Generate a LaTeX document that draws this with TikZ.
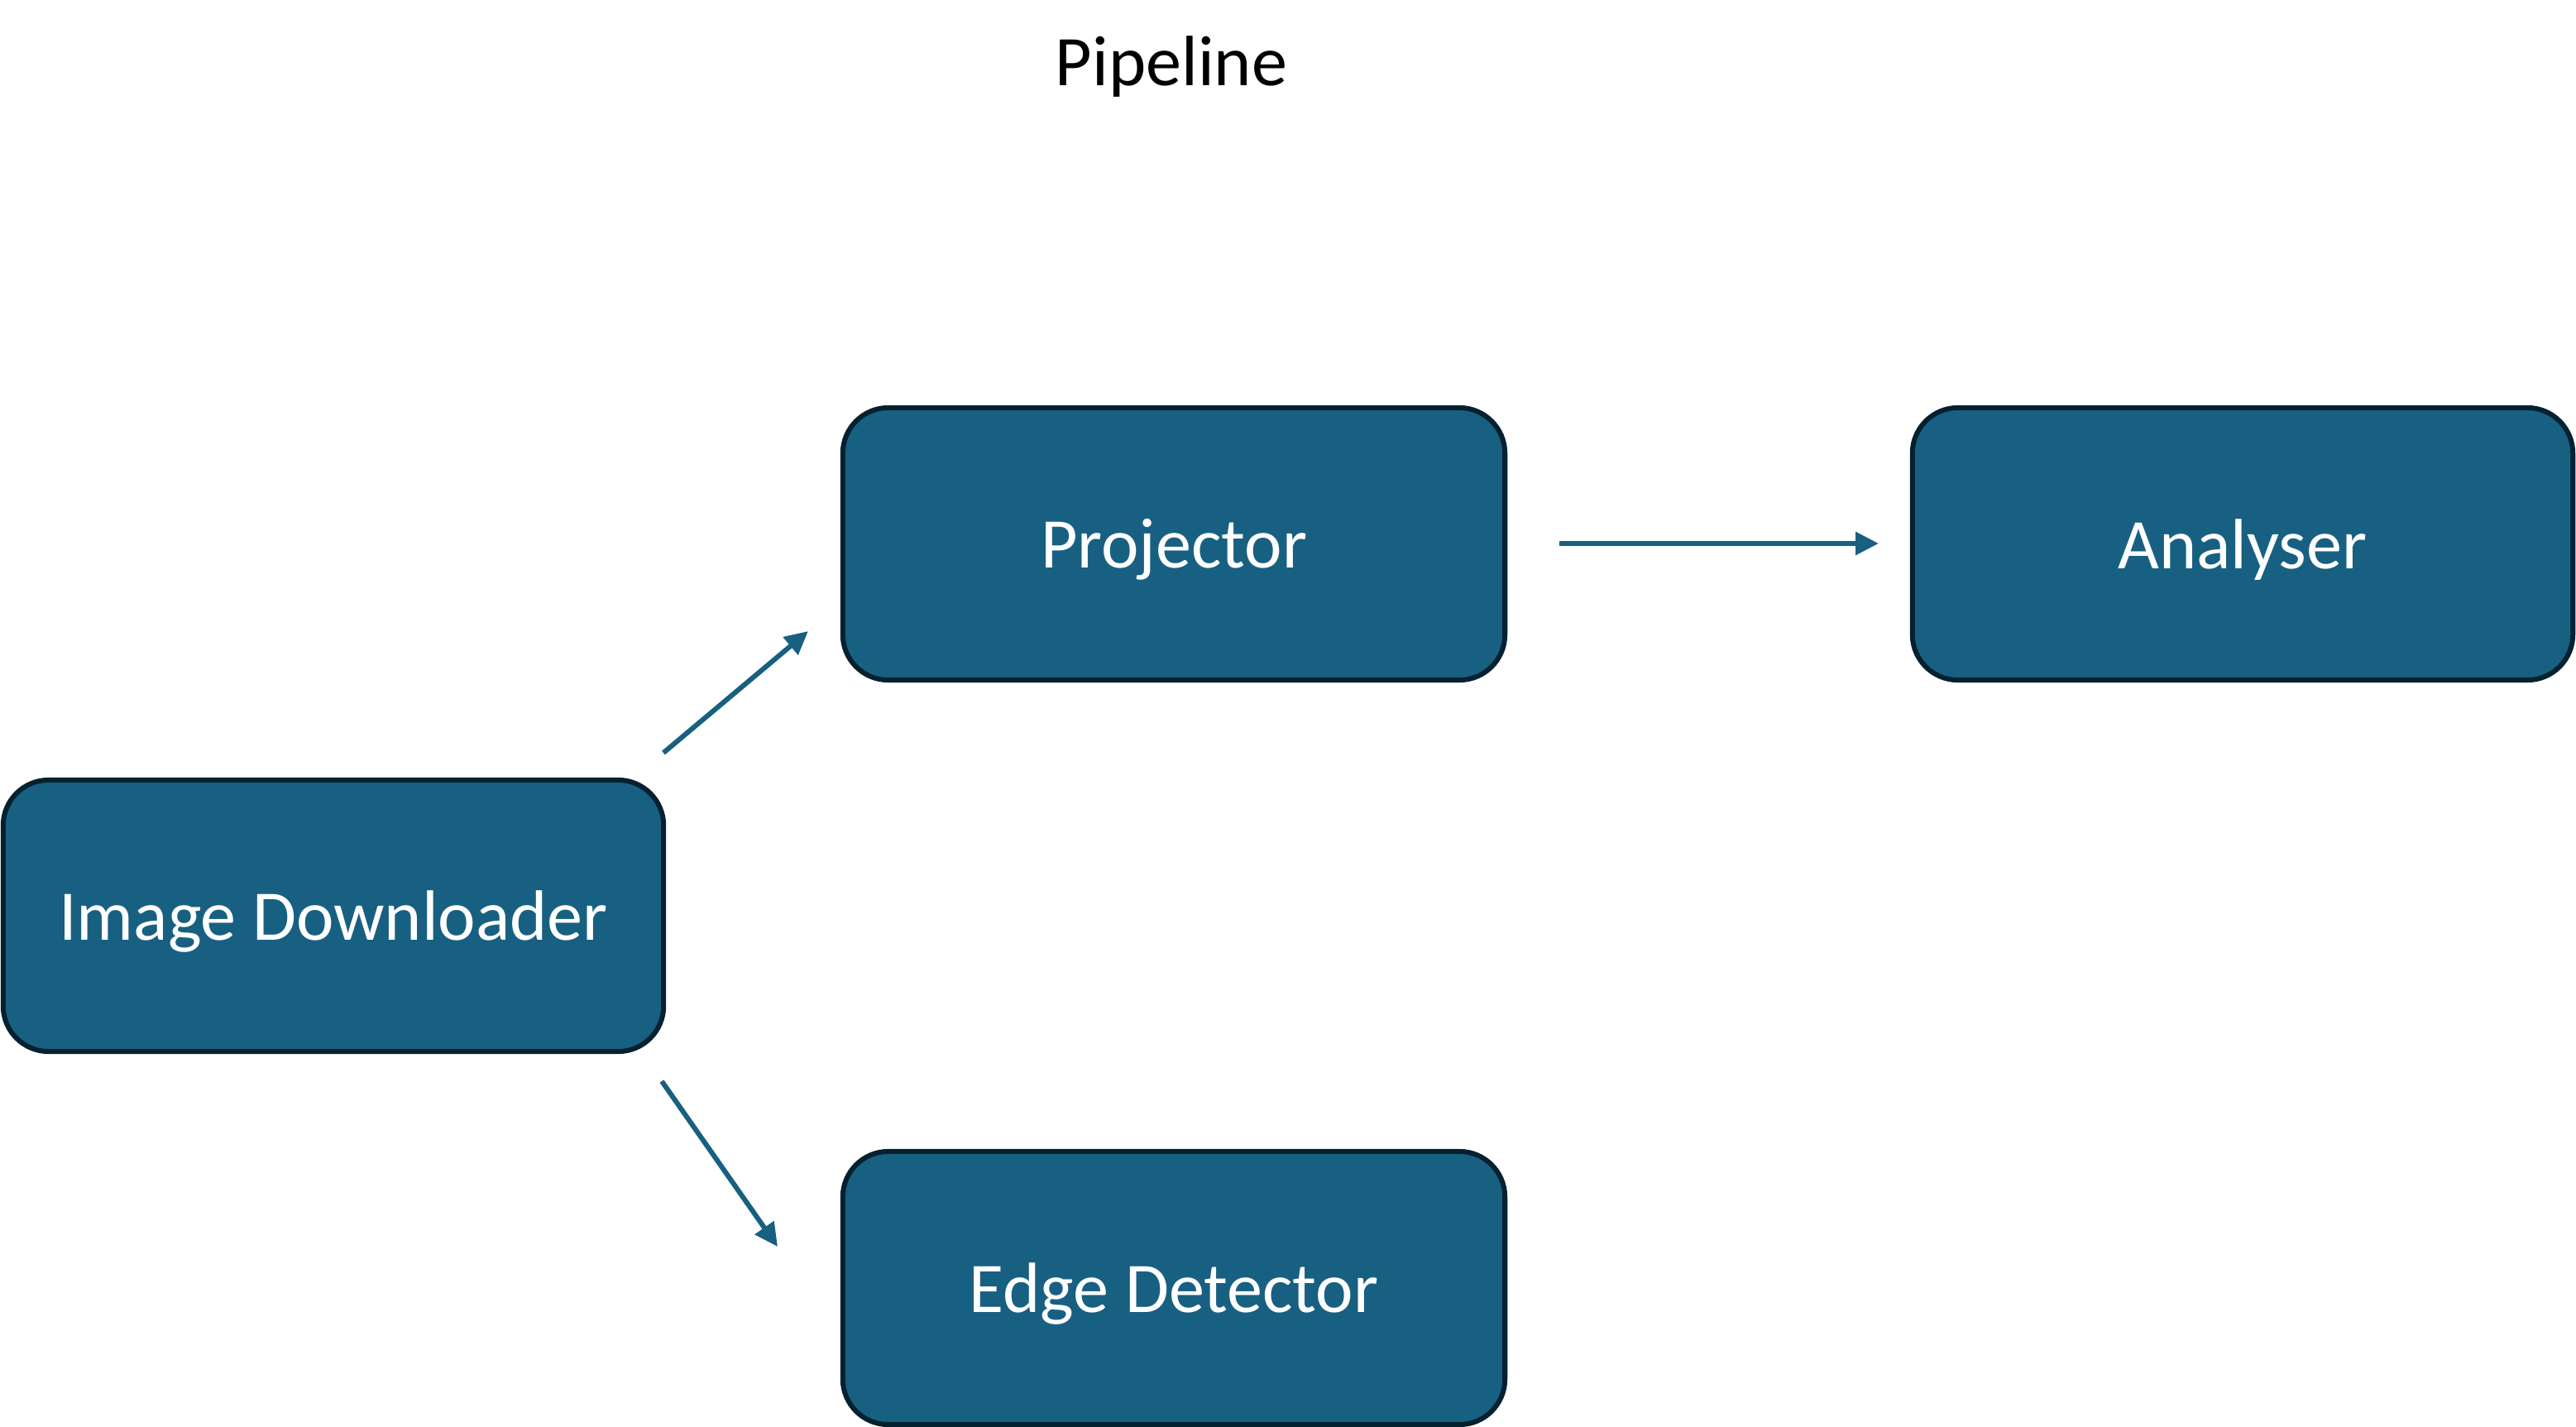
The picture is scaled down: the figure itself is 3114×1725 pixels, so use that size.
\documentclass[tikz,border=0pt]{standalone}
\usepackage{fontspec}
\setmainfont{Carlito}
\usetikzlibrary{arrows.meta}
\definecolor{boxfill}{RGB}{24,96,130}
\definecolor{boxline}{RGB}{5,33,47}
\definecolor{arrowcol}{RGB}{23,96,128}
\newcommand{\lowertext}[1]{\raisebox{-0.07cm}[\height][\depth]{#1}}
\tikzset{
  stagebox/.style={draw=boxline, fill=boxfill, line width=0.06cm, rounded corners=0.55cm,
    text=white, font=\fontsize{24.5pt}{29pt}\selectfont, inner sep=0pt},
  flowarrow/.style={draw=arrowcol, line width=0.06cm, -{Triangle[length=0.28cm,width=0.27cm]}}
}
\begin{document}
\begin{tikzpicture}[x=0.01cm,y=-0.01cm]
\useasboundingbox (0,0) rectangle (3114,1725);
\node[font=\fontsize{24.5pt}{29pt}\selectfont] (title) at (1416,81) {Pipeline};
\node[stagebox, minimum width=7.98cm, minimum height=3.28cm] (dl) at (403,1107) {\lowertext{Image Downloader}};
\node[stagebox, minimum width=8.00cm, minimum height=3.29cm] (proj) at (1419,657.5) {\lowertext{Projector}};
\node[stagebox, minimum width=7.98cm, minimum height=3.29cm] (ana) at (2711,657.5) {\lowertext{Analyser}};
\node[stagebox, minimum width=8.00cm, minimum height=3.30cm] (edge) at (1419,1557) {\lowertext{Edge Detector}};
\coordinate (a1s) at (802,910);
\coordinate (a1e) at (977,763);
\coordinate (a2s) at (1885,657);
\coordinate (a2e) at (2271,657);
\coordinate (a3s) at (800,1307);
\coordinate (a3e) at (940,1507);
\draw[flowarrow] (a1s) -- (a1e);
\draw[flowarrow] (a2s) -- (a2e);
\draw[flowarrow] (a3s) -- (a3e);
\end{tikzpicture}
\end{document}
